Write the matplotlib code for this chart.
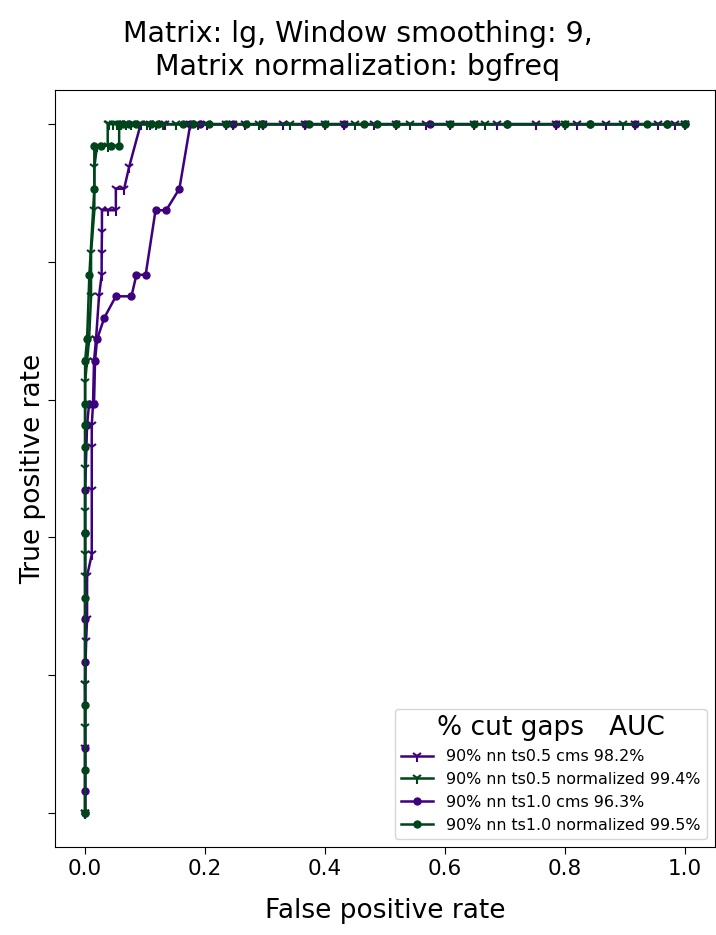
import matplotlib
matplotlib.use('Agg')
import matplotlib.pyplot as plt

#%% data

# 90% nn ts0.5 cms
fpr_a = [0.0, 0.0, 0.0, 0.0017, 0.0033, 0.0033, 0.0111, 0.0111, 0.0111, 0.0111,
         0.0132, 0.0149, 0.0182, 0.0232, 0.0276, 0.0276, 0.0281, 0.0281, 0.0377,
         0.0513, 0.0513, 0.0651, 0.0733, 0.0927,
         0.109, 0.134, 0.1755, 0.2036, 0.2351, 0.2666, 0.2964, 0.3295, 0.3675,
         0.4007, 0.4321, 0.4818, 0.5182, 0.5679, 0.6093, 0.649, 0.6871, 0.7517,
         0.7848, 0.8212, 0.8692, 0.9172, 0.9553, 0.9834, 1.0]
tpr_a = [0, 3, 6, 8, 9, 11, 12, 15, 17, 18,
         19, 21, 22, 24, 25, 26, 27, 28, 28,
         28, 29, 29, 30, 32] + [32] * 25

# 90% nn ts0.5 normalized
fpr_b = [0.0, 0.0, 0.0, 0.0, 0.0, 0.0, 0.0, 0.0, 0.0033, 0.0066, 0.0099, 0.0099,
         0.0154, 0.0154, 0.0199, 0.0377, 0.0377,
         0.0397, 0.0464, 0.053, 0.0596, 0.0679, 0.0762, 0.0894, 0.1026, 0.1175,
         0.1291, 0.1523, 0.1887, 0.2467, 0.2897, 0.3411, 0.4503, 0.5414, 0.6672,
         0.7997, 0.8974, 1.0]
tpr_b = [0, 4, 6, 11, 12, 14, 16, 20, 21, 22, 24, 26,
         28, 30, 31, 31, 32] + [32] * 21

# 90% nn ts1.0 cms
fpr_c = [0.0, 0.0, 0.0, 0.0, 0.0, 0.0, 0.0, 0.0033, 0.0066, 0.0149, 0.0166,
         0.0199, 0.032, 0.0513, 0.0773, 0.0856, 0.101, 0.1175, 0.1353, 0.1573,
         0.1755,
         0.192, 0.2467, 0.2964, 0.3675, 0.4321, 0.5182, 0.5745, 0.7036, 0.7848,
         0.8427, 0.9172, 0.9702, 1.0]
tpr_c = [0, 1, 3, 7, 9, 13, 15, 18, 19, 19, 21,
         22, 23, 24, 24, 25, 25, 28, 28, 29,
         32] + [32] * 13

# 90% nn ts1.0 normalized
fpr_d = [0.0, 0.0, 0.0, 0.0, 0.0, 0.0, 0.0, 0.0, 0.0, 0.0033, 0.0071, 0.0154,
         0.0154, 0.0265, 0.043, 0.0568, 0.0568,
         0.0629, 0.0728, 0.0844, 0.1093, 0.1209, 0.1639, 0.1805, 0.207, 0.2351,
         0.2682, 0.2947, 0.3742, 0.4007, 0.4652, 0.4868, 0.5182, 0.6093, 0.649,
         0.7036, 0.7997, 0.8427, 0.9371, 0.9702, 1.0]
tpr_d = [0, 2, 5, 10, 13, 17, 18, 19, 21, 22, 25, 29,
         31, 31, 31, 31, 32] + [32] * 24

n_pos = 32.0

labels = ['90% nn ts0.5 cms 98.2%',
          '90% nn ts0.5 normalized 99.4%',
          '90% nn ts1.0 cms 96.3%',
          '90% nn ts1.0 normalized 99.5%']

purple = '#3f007d'
green = '#00441b'

#%% plot

fig = plt.figure(figsize=(7.16, 9.35), dpi=100)
ax = fig.add_axes([0.077, 0.094, 0.921, 0.81])

ax.plot(fpr_a, [t / n_pos for t in tpr_a], marker='1', markersize=8,
        markeredgewidth=1.5, linewidth=1.8, color=purple, label=labels[0])
ax.plot(fpr_b, [t / n_pos for t in tpr_b], marker='1', markersize=8,
        markeredgewidth=1.5, linewidth=1.8, color=green, label=labels[1])
ax.plot(fpr_c, [t / n_pos for t in tpr_c], marker='o', markersize=5,
        linewidth=1.8, color=purple, label=labels[2])
ax.plot(fpr_d, [t / n_pos for t in tpr_d], marker='o', markersize=5,
        linewidth=1.8, color=green, label=labels[3])

ax.set_yticks([0, 0.2, 0.4, 0.6, 0.8, 1.0])
ax.set_yticklabels([])
ax.set_xticks([0, 0.2, 0.4, 0.6, 0.8, 1.0])
ax.tick_params(labelsize=15.5, length=5)

ax.set_xlabel('False positive rate', fontsize=19, labelpad=14)
ax.set_ylabel('True positive rate', fontsize=19, labelpad=-2)
fig.suptitle('Matrix: lg, Window smoothing: 9,\nMatrix normalization: bgfreq',
             fontsize=20.5, x=0.5, y=0.979, linespacing=1.25)

leg = ax.legend(loc='lower right', fontsize=11.4, title='% cut gaps   AUC',
                title_fontsize=19)

fig.savefig('out.png', dpi=100)
